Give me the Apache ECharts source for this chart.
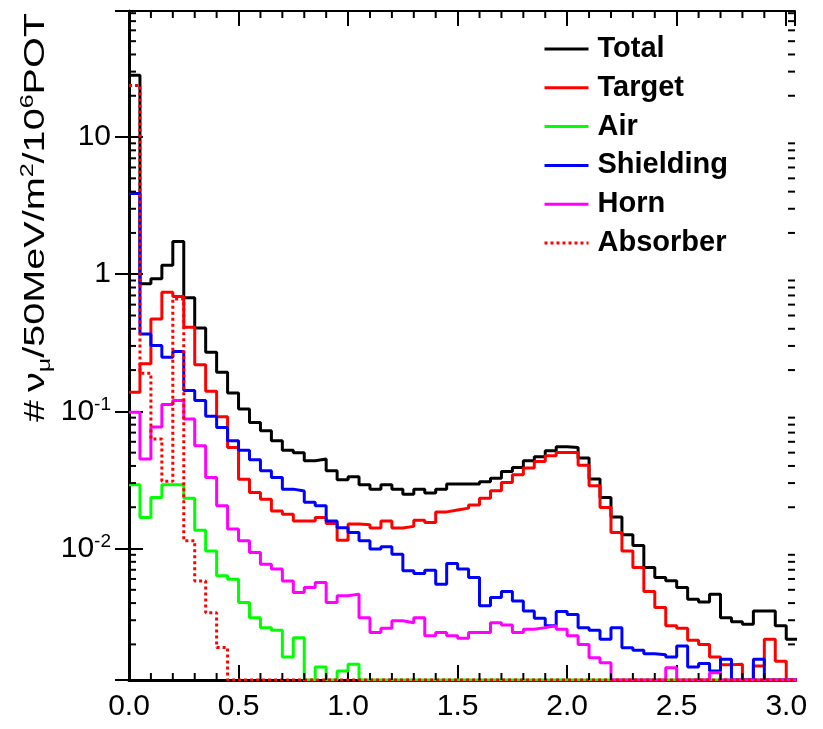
<!DOCTYPE html>
<html>
<head>
<meta charset="utf-8">
<script src="https://cdn.jsdelivr.net/npm/echarts@6/dist/echarts.min.js"></script>
<style>
  html, body { margin: 0; padding: 0; background: #fff; }
  #chart { width: 823px; height: 729px; }
</style>
</head>
<body>
<div id="chart"></div>
<script>
// bins of 50 MeV, lower edges in GeV
var binWidth = 0.05
var binLow = []
for (var b = 0; b <= 60; b++) binLow.push(+(b * binWidth).toFixed(2))

// bin contents (0 = empty bin)
var total = [28.2, 0.851, 0.925, 1.16, 1.73, 0.673, 0.406, 0.27, 0.193, 0.136,
  0.104, 0.083, 0.0723, 0.061, 0.052, 0.050, 0.0437, 0.0449, 0.0369, 0.0317,
  0.0334, 0.0292, 0.0271, 0.0292, 0.0271, 0.0249, 0.0271, 0.0254, 0.0271, 0.0295,
  0.0295, 0.0295, 0.0307, 0.0326, 0.0365, 0.039, 0.0437, 0.0467, 0.0516, 0.0552,
  0.0546, 0.0457, 0.0321, 0.0236, 0.017, 0.0126, 0.0105, 0.00726, 0.00614, 0.00581,
  0.00519, 0.00427, 0.00408, 0.00465, 0.00313, 0.00293, 0.0028, 0.00351, 0.00351, 0.00273,
  0.00218]
var target = [0.138, 0.222, 0.472, 0.739, 0.687, 0.41, 0.219, 0.14, 0.0915, 0.0546,
  0.032, 0.0256, 0.0229, 0.0188, 0.0178, 0.0159, 0.0159, 0.0168, 0.0152, 0.0115,
  0.0151, 0.0149, 0.0141, 0.0159, 0.0141, 0.0145, 0.0161, 0.0155, 0.0185, 0.0191,
  0.0197, 0.0208, 0.0233, 0.0264, 0.0303, 0.0345, 0.0386, 0.0431, 0.0475, 0.0502,
  0.0502, 0.0405, 0.0287, 0.0199, 0.0131, 0.0096, 0.00727, 0.00486, 0.00371, 0.00273,
  0.00262, 0.00214, 0.002, 0.00162, 0.00142, 0.00143, 0, 0.00139, 0.00218, 0.00151,
  0]
var air = [0.0292, 0.0168, 0.0236, 0.0292, 0.0292, 0.0233, 0.0136, 0.0096, 0.00632, 0.00597,
  0.00404, 0.00313, 0.00265, 0.00254, 0.00162, 0.00224, 0, 0.00137, 0, 0.00128,
  0.00143, 0, 0, 0, 0, 0, 0, 0, 0, 0,
  0, 0, 0, 0, 0, 0, 0, 0, 0, 0,
  0, 0, 0, 0, 0, 0, 0, 0, 0, 0,
  0, 0, 0, 0, 0, 0, 0, 0, 0, 0,
  0]
var shielding = [3.88, 0.367, 0.302, 0.248, 0.273, 0.142, 0.12, 0.092, 0.0764, 0.0611,
  0.052, 0.0443, 0.0369, 0.033, 0.0271, 0.0263, 0.0217, 0.0205, 0.0159, 0.0142,
  0.0131, 0.0114, 0.0099, 0.0103, 0.0091, 0.00688, 0.00657, 0.00695, 0.0055, 0.00778,
  0.00708, 0.00614, 0.00382, 0.00439, 0.00486, 0.00415, 0.00351, 0.0031, 0.00273, 0.00347,
  0.0033, 0.00265, 0.00254, 0.00218, 0.00265, 0.00189, 0.00181, 0.00171, 0.00168, 0.00162,
  0.00195, 0.00137, 0.00145, 0.00128, 0.00156, 0, 0, 0.00156, 0, 0,
  0]
var horn = [0.0984, 0.0449, 0.0768, 0.112, 0.12, 0.088, 0.0562, 0.033, 0.0205, 0.0139,
  0.0114, 0.00935, 0.00769, 0.00708, 0.0058, 0.00477, 0.00519, 0.00565, 0.00404, 0.00452,
  0.00465, 0.00313, 0.00244, 0.00262, 0.00297, 0.00288, 0.00313, 0.00231, 0.00244, 0.00231,
  0.00222, 0.00244, 0.00244, 0.00288, 0.00277, 0.00244, 0.00258, 0.00265, 0.00273, 0.00258,
  0.00231, 0.002, 0.0016, 0.00147, 0, 0, 0, 0, 0, 0.00135,
  0, 0, 0, 0.00124, 0, 0, 0, 0, 0, 0,
  0]
var absorber = [23.8, 0.19, 0.0629, 0.031, 0.66, 0.0114, 0.0058, 0.0034, 0.0019, 0,
  0, 0, 0, 0, 0, 0, 0, 0, 0, 0,
  0, 0, 0, 0, 0, 0, 0, 0, 0, 0,
  0, 0, 0, 0, 0, 0, 0, 0, 0, 0,
  0, 0, 0, 0, 0, 0, 0, 0, 0, 0,
  0, 0, 0, 0, 0, 0, 0, 0, 0, 0,
  0]

var seriesNames = ['Total', 'Target', 'Air', 'Shielding', 'Horn', 'Absorber']
var seriesColors = ['#000000', '#ff0000', '#00ff00', '#0000ff', '#ff00ff', '#ff0000']

// axis ranges
var xMin = 0
var xMax = 3.04
var yMin = 0.0011
var yMax = 83
var xMinorTicks = [0.1, 0.2, 0.3, 0.4, 0.6, 0.7, 0.8, 0.9, 1.1, 1.2, 1.3, 1.4,
  1.6, 1.7, 1.8, 1.9, 2.1, 2.2, 2.3, 2.4, 2.6, 2.7, 2.8, 2.9]
var yMinorTicks = []
for (var k = -3; k <= 1; k++) {
  for (var m = 2; m <= 9; m++) {
    var t = m * Math.pow(10, k)
    if (t > yMin && t < yMax) yMinorTicks.push(t)
  }
}

var tickFont = "'Liberation Sans', Arial, sans-serif"

// histogram outline: one point per lower edge, plus the last upper edge
function histData(vals) {
  var out = []
  for (var i = 0; i < vals.length; i++) {
    out.push([binLow[i], vals[i] > 0 ? vals[i] : yMin])
  }
  var last = vals[vals.length - 1]
  out.push([binLow[vals.length - 1] + binWidth, last > 0 ? last : yMin])
  return out
}

function histSeries(name, vals, color, dotted) {
  return {
    name: name,
    type: 'line',
    step: 'end',
    symbol: 'none',
    data: histData(vals),
    itemStyle: { color: color },
    lineStyle: { color: color, width: 3, type: dotted ? [3, 3] : 'solid' },
    animation: false
  }
}

var chart = echarts.init(document.getElementById('chart'))

var option = {
  backgroundColor: '#fff',
  animation: false,
  grid: { left: 129, right: 28, top: 11, bottom: 49, outerBoundsMode: 'none' },
  legend: {
    data: seriesNames,
    orient: 'vertical',
    left: 538,
    top: 29,
    itemWidth: 44,
    itemHeight: 14,
    itemGap: 8.8,
    selectedMode: false,
    itemStyle: { opacity: 0 },
    lineStyle: { width: 3 },
    textStyle: {
      fontSize: 29,
      fontWeight: 'bold',
      fontFamily: "'Liberation Sans', Arial, sans-serif",
      color: '#000',
      lineHeight: 30,
      padding: [0, 0, 0, 4]
    }
  },
  xAxis: [{
    type: 'value',
    min: xMin,
    max: xMax,
    interval: 0.5,
    position: 'bottom',
    splitLine: { show: false },
    axisLine: { lineStyle: { color: '#000', width: 3 } },
    axisTick: { inside: true, length: 15, lineStyle: { color: '#000', width: 2 } },
    axisLabel: {
      margin: 12,
      color: '#000',
      fontSize: 30,
      fontFamily: tickFont,
      showMaxLabel: false,
      formatter: function (v) { return v.toFixed(1) }
    }
  }, {
    type: 'value',
    min: xMin,
    max: xMax,
    interval: 0.5,
    position: 'top',
    splitLine: { show: false },
    axisLine: { lineStyle: { color: '#000', width: 2 } },
    axisTick: { inside: true, length: 15, lineStyle: { color: '#000', width: 2 } },
    axisLabel: { show: false }
  }],
  yAxis: [{
    type: 'log',
    logBase: 10,
    min: yMin,
    max: yMax,
    position: 'left',
    splitLine: { show: false },
    axisLine: { lineStyle: { color: '#000', width: 3 } },
    axisTick: { inside: true, length: 14, lineStyle: { color: '#000', width: 2 } },
    axisLabel: {
      margin: 18,
      showMinLabel: false,
      showMaxLabel: false,
      formatter: function (v) {
        var p = Math.round(Math.log10(v))
        if (p === 0) return '{base|1}'
        if (p === 1) return '{base|10}'
        return '{base|10}{sup|' + p + '}'
      },
      rich: {
        base: { fontSize: 30, fontFamily: tickFont, color: '#000', lineHeight: 32 },
        sup: { fontSize: 19, fontFamily: tickFont, color: '#000', verticalAlign: 'top' }
      }
    }
  }, {
    type: 'log',
    logBase: 10,
    min: yMin,
    max: yMax,
    position: 'right',
    splitLine: { show: false },
    axisLine: { lineStyle: { color: '#000', width: 2 } },
    axisTick: { inside: true, length: 14, lineStyle: { color: '#000', width: 2 } },
    axisLabel: { show: false }
  }],
  graphic: [{
    type: 'text',
    x: 54,
    y: 422,
    rotation: Math.PI / 2,
    scaleX: 1.32,
    style: {
      text: '{m|#\u2009\u03bd}{sub|\u03bc}{m|/50MeV/m}{sup|2}{m|/10}{sup|6}{m|POT}',
      align: 'left',
      verticalAlign: 'bottom',
      fill: '#000',
      rich: {
        m: { fontSize: 30, fontFamily: "'Liberation Sans', Arial, sans-serif", fill: '#000', lineHeight: 36 },
        sub: { fontSize: 19, fontFamily: "'Liberation Sans', Arial, sans-serif", fill: '#000', verticalAlign: 'bottom' },
        sup: { fontSize: 19, fontFamily: "'Liberation Sans', Arial, sans-serif", fill: '#000', verticalAlign: 'top' }
      }
    }
  }],
  series: [
    histSeries('Total', total, seriesColors[0], false),
    histSeries('Target', target, seriesColors[1], false),
    histSeries('Air', air, seriesColors[2], false),
    histSeries('Shielding', shielding, seriesColors[3], false),
    histSeries('Horn', horn, seriesColors[4], false),
    histSeries('Absorber', absorber, seriesColors[5], true),
    {
      // minor ticks on the log axis, left and right
      type: 'custom',
      coordinateSystem: 'cartesian2d',
      silent: true,
      clip: false,
      z: 5,
      data: yMinorTicks.map(function (v) { return [xMin, v] }),
      encode: { x: 0, y: 1 },
      renderItem: function (params, api) {
        var cs = params.coordSys
        var y = api.coord([xMin, api.value(1)])[1]
        var st = { stroke: '#000', lineWidth: 2 }
        return {
          type: 'group',
          children: [
            { type: 'line', shape: { x1: cs.x, y1: y, x2: cs.x + 7, y2: y }, style: st },
            { type: 'line', shape: { x1: cs.x + cs.width - 7, y1: y, x2: cs.x + cs.width, y2: y }, style: st }
          ]
        }
      }
    },
    {
      // minor ticks on the energy axis, bottom and top
      type: 'custom',
      coordinateSystem: 'cartesian2d',
      silent: true,
      clip: false,
      z: 5,
      data: xMinorTicks.map(function (v) { return [v, yMin] }),
      encode: { x: 0, y: 1 },
      renderItem: function (params, api) {
        var cs = params.coordSys
        var x = api.coord([api.value(0), yMin])[0]
        var st = { stroke: '#000', lineWidth: 2 }
        return {
          type: 'group',
          children: [
            { type: 'line', shape: { x1: x, y1: cs.y + cs.height, x2: x, y2: cs.y + cs.height - 7 }, style: st },
            { type: 'line', shape: { x1: x, y1: cs.y, x2: x, y2: cs.y + 7 }, style: st }
          ]
        }
      }
    }
  ]
}

chart.setOption(option)
</script>
</body>
</html>
